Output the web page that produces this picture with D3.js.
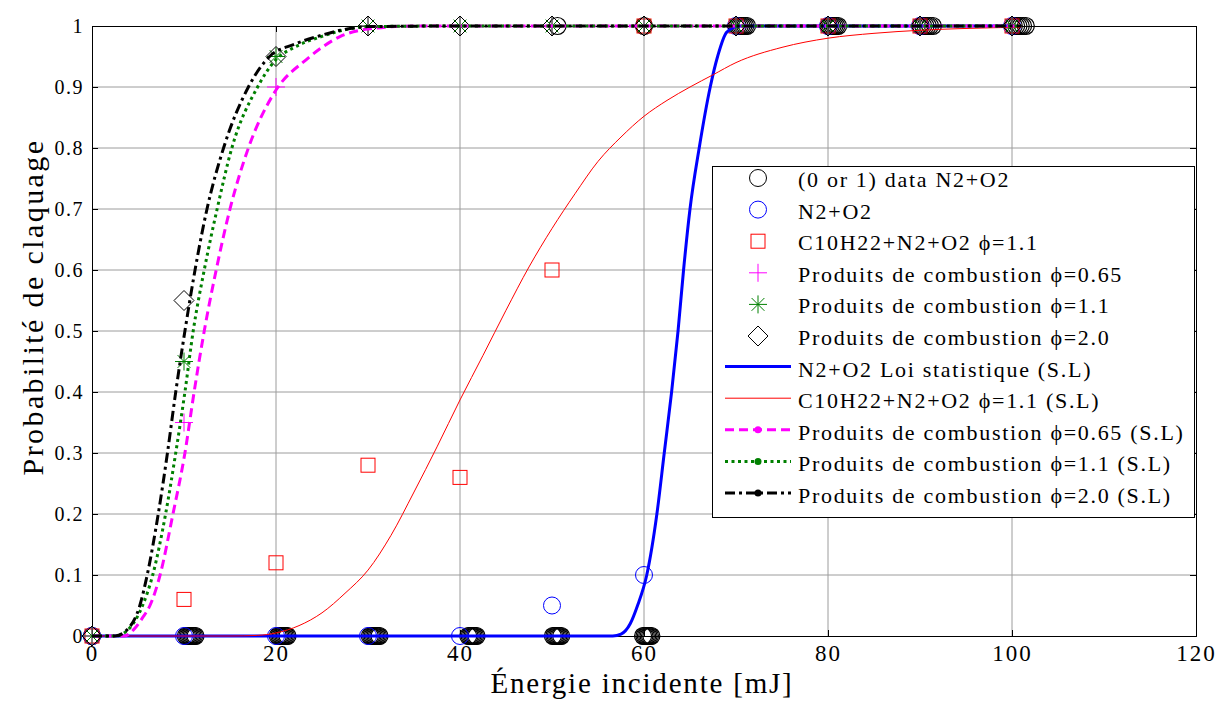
<!DOCTYPE html>
<html>
<head>
<meta charset="utf-8">
<script src="https://cdn.jsdelivr.net/npm/d3@7"></script>
<style>
  html, body { margin: 0; padding: 0; background: #fff; }
  svg { display: block; }
  text { font-family: "Liberation Serif", "Times New Roman", serif; fill: #000; }
</style>
</head>
<body>
<svg id="chart" width="1216" height="702"></svg>
<script>
// ---------- data ----------
const xTicks = [0, 20, 40, 60, 80, 100, 120];
const yTicks = [0, 0.1, 0.2, 0.3, 0.4, 0.5, 0.6, 0.7, 0.8, 0.9, 1];

const energies = [0, 10, 20, 30, 40, 50, 60, 70, 80, 90, 100];
const n2o2Prob  = [0, 0, 0, 0, 0, 0.05, 0.1, 1, 1, 1, 1];
const c10Prob   = [0, 0.06, 0.12, 0.28, 0.26, 0.6, 1, 1, 1, 1, 1];
const p065Prob  = [0, 0.35, 0.9, 1, 1, 1, 1, 1, 1, 1, 1];
const p11Prob   = [0, 0.45, 0.95, 1, 1, 1, 1, 1, 1, 1, 1];
const p20Prob   = [0, 0.55, 0.95, 1, 1, 1, 1, 1, 1, 1, 1];

// raw (0 or 1) shots, N2+O2
const rawZeroX = [0,
  10.2, 10.35, 10.5, 10.65, 10.8, 10.95, 11.1, 11.25,
  20.2, 20.35, 20.5, 20.65, 20.8, 20.95, 21.1, 21.25,
  30.2, 30.35, 30.5, 30.65, 30.8, 30.95, 31.1, 31.25,
  40.9, 41.05, 41.2, 41.35, 41.5, 41.65, 41.8,
  50.1, 50.25, 50.4, 50.55, 50.7, 50.85, 51.0,
  59.9, 60.05, 60.2, 60.35, 60.5, 60.65, 60.8];
const rawOneX = [50.6, 60.0,
  70.2, 70.4, 70.6, 70.8, 71.0, 71.2,
  80.1, 80.3, 80.5, 80.7, 80.9, 81.1,
  90.1, 90.35, 90.6, 90.85, 91.1, 91.4,
  100.2, 100.45, 100.7, 100.95, 101.2, 101.5];

// statistical laws (S.L)
const blueX = [0, 10, 20, 30, 40, 50, 55, 56.6, 57.5, 58.5, 59.3, 60.3, 61.4, 62.2, 63.0, 63.7, 64.3, 65.0, 66.0, 67.2, 68.0, 69.0, 70.4, 80, 90, 100];
const blueY = [0, 0, 0, 0, 0, 0, 0, 0, 0.003, 0.02, 0.05, 0.1, 0.2, 0.3, 0.4, 0.5, 0.6, 0.7, 0.8, 0.9, 0.95, 0.99, 1, 1, 1, 1];

const redX = [0, 10, 15, 18, 20, 22.5, 25, 27.5, 30, 32.5, 35, 37.5, 40, 42.5, 45, 47.5, 50, 52.5, 55, 57.5, 60, 62.5, 65, 67.5, 70, 75, 80, 85, 90, 95, 101];
const redY = [0, 0, 0, 0.001, 0.005, 0.017, 0.038, 0.07, 0.108, 0.165, 0.236, 0.31, 0.387, 0.46, 0.534, 0.605, 0.668, 0.725, 0.778, 0.818, 0.852, 0.878, 0.9, 0.92, 0.94, 0.965, 0.98, 0.988, 0.993, 0.996, 0.998];

const magX = [0, 3.5, 4.5, 5.5, 6.3, 7.4, 8.8, 10.1, 11.1, 12.2, 13.5, 15.0, 17.0, 20.0, 23.3, 25, 27, 30, 35, 40, 60, 80, 101];
const magY = [0, 0, 0.01, 0.03, 0.05, 0.1, 0.2, 0.3, 0.4, 0.5, 0.6, 0.7, 0.8, 0.895, 0.945, 0.965, 0.983, 0.995, 1, 1, 1, 1, 1];

const grnX = [0, 2.5, 3.9, 5.5, 6.6, 8.0, 9.1, 10.1, 11.0, 12.2, 13.6, 15.2, 18.0, 20.0, 22, 25, 27, 30, 40, 60, 80, 101];
const grnY = [0, 0, 0.01, 0.05, 0.1, 0.2, 0.3, 0.4, 0.5, 0.6, 0.7, 0.8, 0.9, 0.945, 0.965, 0.983, 0.992, 0.999, 1, 1, 1, 1];

const blkX = [0, 2.5, 3.8, 5.2, 6.0, 7.2, 8.2, 9.1, 10.1, 11.2, 12.5, 14.3, 17.0, 19.3, 22, 25, 27, 30, 40, 60, 80, 101];
const blkY = [0, 0, 0.01, 0.05, 0.1, 0.2, 0.3, 0.4, 0.5, 0.6, 0.7, 0.8, 0.9, 0.95, 0.97, 0.985, 0.993, 0.999, 1, 1, 1, 1];

const legendLabels = [
  "(0 or 1) data N2+O2",
  "N2+O2",
  "C10H22+N2+O2 \u03d5=1.1",
  "Produits de combustion \u03d5=0.65",
  "Produits de combustion \u03d5=1.1",
  "Produits de combustion \u03d5=2.0",
  "N2+O2 Loi statistique (S.L)",
  "C10H22+N2+O2 \u03d5=1.1 (S.L)",
  "Produits de combustion \u03d5=0.65 (S.L)",
  "Produits de combustion \u03d5=1.1 (S.L)",
  "Produits de combustion \u03d5=2.0 (S.L)"
];

// ---------- layout ----------
const svg = d3.select("#chart");
const L = 92, R = 1196, T = 26, B = 636;
const x = d3.scaleLinear().domain([0, 120]).range([L, R]);
const y = d3.scaleLinear().domain([0, 1]).range([B, T]);
const FONT = "Liberation Serif";

// grid
const grid = svg.append("g");
grid.selectAll("line.gx").data(xTicks.slice(1, -1)).join("line")
  .attr("x1", d => x(d)).attr("x2", d => x(d)).attr("y1", T).attr("y2", B)
  .attr("stroke", "#9c9c9c").attr("stroke-width", 1);
grid.selectAll("line.gy").data(yTicks.slice(1, -1)).join("line")
  .attr("x1", L).attr("x2", R).attr("y1", d => y(d)).attr("y2", d => y(d))
  .attr("stroke", "#9c9c9c").attr("stroke-width", 1);

// axes
const axB = svg.append("g").attr("transform", `translate(0,${B})`)
  .call(d3.axisBottom(x).tickValues(xTicks).tickSize(-6).tickPadding(9).tickFormat(d3.format("d")));
const axL = svg.append("g").attr("transform", `translate(${L},0)`)
  .call(d3.axisLeft(y).tickValues(yTicks).tickSize(-6).tickPadding(8).tickFormat(d => d === 0 ? "0" : d === 1 ? "1" : d3.format(".1f")(d)));
const axT = svg.append("g").attr("transform", `translate(0,${T})`)
  .call(d3.axisTop(x).tickValues(xTicks).tickSize(-6).tickFormat(""));
const axR = svg.append("g").attr("transform", `translate(${R},0)`)
  .call(d3.axisRight(y).tickValues(yTicks).tickSize(-6).tickFormat(""));
[axB, axL, axT, axR].forEach(a => {
  a.attr("font-family", FONT);
  a.select(".domain").attr("stroke", "#000").attr("stroke-width", 1);
  a.selectAll(".tick line").attr("stroke", "#000");
  a.selectAll("text").attr("font-family", FONT).attr("fill", "#000");
});
axL.selectAll("text").attr("font-size", "20px").attr("letter-spacing", "1.5px");
axB.selectAll("text").attr("font-size", "23px").attr("letter-spacing", "2px");

// axis titles
svg.append("text").attr("x", 642).attr("y", 693).attr("text-anchor", "middle")
  .attr("font-family", FONT).attr("font-size", "29px").attr("letter-spacing", "1.8px")
  .text("\u00c9nergie incidente [mJ]");
svg.append("text").attr("transform", `translate(43,${307}) rotate(-90)`).attr("text-anchor", "middle")
  .attr("font-family", FONT).attr("font-size", "30px").attr("letter-spacing", "2.4px")
  .text("Probabilit\u00e9 de claquage");

// ---------- marker helpers ----------
function drawMarker(g, type, cx, cy, color, sw) {
  sw = sw || 1;
  if (type === "circle") {
    g.append("circle").attr("cx", cx).attr("cy", cy).attr("r", 8.5)
      .attr("fill", "none").attr("stroke", color).attr("stroke-width", sw);
  } else if (type === "square") {
    g.append("rect").attr("x", cx - 7).attr("y", cy - 7).attr("width", 14).attr("height", 14)
      .attr("fill", "none").attr("stroke", color).attr("stroke-width", sw);
  } else if (type === "plus") {
    g.append("path").attr("d", `M${cx - 9},${cy}H${cx + 9}M${cx},${cy - 9}V${cy + 9}`)
      .attr("stroke", color).attr("stroke-width", sw).attr("fill", "none");
  } else if (type === "star") {
    const r = 9, d = 6.4;
    g.append("path").attr("d", `M${cx - r},${cy}H${cx + r}M${cx},${cy - r}V${cy + r}M${cx - d},${cy - d}L${cx + d},${cy + d}M${cx - d},${cy + d}L${cx + d},${cy - d}`)
      .attr("stroke", color).attr("stroke-width", sw).attr("fill", "none");
  } else if (type === "diamond") {
    g.append("path").attr("d", `M${cx},${cy - 10}L${cx + 10},${cy}L${cx},${cy + 10}L${cx - 10},${cy}Z`)
      .attr("stroke", color).attr("stroke-width", sw).attr("fill", "none");
  }
}

const marks = svg.append("g");
// raw data circles
rawZeroX.forEach(v => drawMarker(marks, "circle", x(v), y(0), "#000", 1.2));
rawOneX.forEach(v => drawMarker(marks, "circle", x(v), y(1), "#000", 1.2));
// series
const scatterSeries = [
  { vals: n2o2Prob, type: "circle", color: "#0000ff" },
  { vals: c10Prob, type: "square", color: "#ff0000" },
  { vals: p065Prob, type: "plus", color: "#ff00ff" },
  { vals: p11Prob, type: "star", color: "#008000" },
  { vals: p20Prob, type: "diamond", color: "#000000" }
];
scatterSeries.forEach(s => {
  energies.forEach((e, i) => drawMarker(marks, s.type, x(e), y(s.vals[i]), s.color));
});

// ---------- lines ----------
const lineGen = d3.line().x(d => x(d[0])).y(d => y(d[1])).curve(d3.curveMonotoneX);
const lineSeries = [
  { xs: blueX, ys: blueY, color: "#0000ff", w: 3, dash: null },
  { xs: redX, ys: redY, color: "#ff0000", w: 1, dash: null },
  { xs: magX, ys: magY, color: "#ff00ff", w: 3, dash: "9,5" },
  { xs: grnX, ys: grnY, color: "#008000", w: 3, dash: "3,3.5" },
  { xs: blkX, ys: blkY, color: "#000000", w: 3, dash: "10,4,3,4" }
];
lineSeries.forEach(s => {
  svg.append("path").datum(s.xs.map((v, i) => [v, s.ys[i]]))
    .attr("d", lineGen).attr("fill", "none").attr("stroke", s.color)
    .attr("stroke-width", s.w).attr("stroke-dasharray", s.dash);
});

// ---------- legend ----------
const lg = svg.append("g");
lg.append("rect").attr("x", 712.5).attr("y", 166.5).attr("width", 482).attr("height", 351)
  .attr("fill", "#fff").attr("stroke", "#000").attr("stroke-width", 1);
const legY = d3.scalePoint().domain(d3.range(legendLabels.length)).range([183, 499]);
const legendSym = ["circle", "circle", "square", "plus", "star", "diamond"];
const legendSymColor = ["#000", "#0000ff", "#ff0000", "#ff00ff", "#008000", "#000"];
legendLabels.forEach((lab, i) => {
  const cy = legY(i);
  if (i < 6) {
    drawMarker(lg, legendSym[i], 758, cy - 5, legendSymColor[i]);
  } else {
    const s = lineSeries[i - 6];
    lg.append("line").attr("x1", 725).attr("x2", 791).attr("y1", cy - 6).attr("y2", cy - 6)
      .attr("stroke", s.color).attr("stroke-width", s.w).attr("stroke-dasharray", s.dash);
    if (i >= 8) {
      lg.append("circle").attr("cx", 758).attr("cy", cy - 6).attr("r", 3.5).attr("fill", s.color);
    }
  }
  lg.append("text").attr("x", 798).attr("y", cy + 4).attr("font-family", FONT).attr("font-size", "22px")
    .attr("letter-spacing", "1.7px").text(lab);
});
</script>
</body>
</html>
